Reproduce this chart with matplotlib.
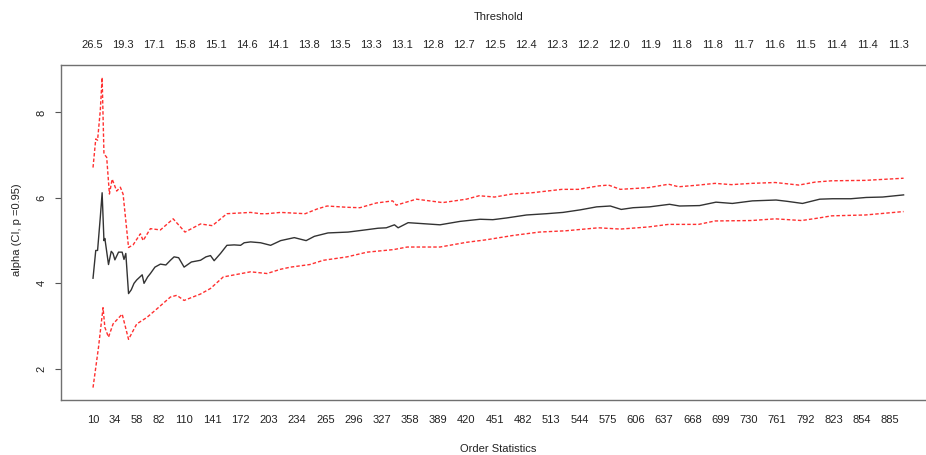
import numpy as np
import matplotlib
matplotlib.use("Agg")
import matplotlib.pyplot as plt

plt.rcParams['font.family'] = ['Liberation Sans', 'DejaVu Sans']

# Hill estimate of alpha (black line)
k_est = [10, 13, 15, 18, 20, 22, 23, 27, 30, 32, 34, 38, 42, 44, 46, 49, 52, 55, 58, 61,
         64, 66, 70, 73, 78, 84, 90, 95, 99, 104, 110, 118, 128, 134, 139, 143, 150, 157,
         165, 172, 176, 183, 194, 205, 216, 231, 244, 253, 268, 290, 305, 323, 332, 341,
         345, 356, 370, 391, 413, 435, 449, 464, 486, 508, 526, 545, 563, 578, 590, 603,
         621, 643, 654, 676, 694, 712, 734, 760, 772, 789, 808, 822, 842, 859, 877, 900]
alpha = [4.12, 4.77, 4.77, 5.55, 6.12, 5.00, 5.05, 4.44, 4.75, 4.70, 4.55, 4.73, 4.73, 4.56,
         4.70, 3.76, 3.85, 4.00, 4.08, 4.14, 4.20, 4.00, 4.15, 4.23, 4.38, 4.45, 4.43, 4.54,
         4.62, 4.60, 4.38, 4.50, 4.54, 4.62, 4.65, 4.53, 4.70, 4.89, 4.90, 4.89, 4.95, 4.97,
         4.95, 4.89, 5.00, 5.07, 5.00, 5.10, 5.18, 5.20, 5.24, 5.29, 5.30, 5.37, 5.30, 5.42,
         5.40, 5.37, 5.45, 5.50, 5.49, 5.53, 5.60, 5.63, 5.66, 5.72, 5.79, 5.81, 5.73, 5.77,
         5.79, 5.85, 5.81, 5.82, 5.90, 5.87, 5.93, 5.95, 5.92, 5.87, 5.97, 5.98, 5.98, 6.01,
         6.02, 6.07]

# upper confidence bound (red dashed)
k_up = [10, 13, 15, 18, 20, 22, 25, 28, 31, 36, 40, 43, 49, 54, 62, 65, 73, 84, 98, 111,
        128, 141, 157, 183, 194, 201, 216, 243, 256, 267, 289, 303, 321, 339, 343, 365,
        394, 420, 434, 451, 470, 492, 525, 543, 565, 576, 589, 620, 642, 653, 675, 693,
        711, 733, 759, 785, 803, 821, 858, 900]
upper = [6.71, 7.38, 7.35, 8.05, 8.82, 7.03, 6.95, 6.09, 6.44, 6.16, 6.25, 6.09, 4.84, 4.90,
         5.16, 5.00, 5.28, 5.25, 5.51, 5.20, 5.39, 5.35, 5.63, 5.66, 5.63, 5.63, 5.66, 5.63,
         5.74, 5.81, 5.78, 5.77, 5.88, 5.93, 5.83, 5.97, 5.89, 5.97, 6.05, 6.02, 6.09, 6.12,
         6.20, 6.20, 6.28, 6.30, 6.20, 6.24, 6.32, 6.26, 6.30, 6.34, 6.31, 6.34, 6.36, 6.30,
         6.37, 6.40, 6.41, 6.46]

# lower confidence bound (red dashed)
k_lo = [10, 16, 21, 23, 27, 32, 42, 49, 58, 69, 80, 95, 102, 110, 128, 139, 153, 183, 201,
        216, 227, 248, 263, 289, 311, 340, 355, 391, 420, 442, 471, 500, 529, 565, 589, 620,
        642, 675, 693, 733, 759, 788, 807, 821, 858, 900]
lower = [1.56, 2.50, 3.43, 2.97, 2.74, 3.05, 3.28, 2.69, 3.05, 3.20, 3.40, 3.68, 3.72, 3.60,
         3.75, 3.88, 4.15, 4.27, 4.23, 4.33, 4.38, 4.44, 4.54, 4.62, 4.73, 4.79, 4.85, 4.85,
         4.96, 5.02, 5.12, 5.20, 5.23, 5.30, 5.27, 5.32, 5.38, 5.38, 5.46, 5.47, 5.51, 5.47,
         5.53, 5.58, 5.60, 5.68]

order_ticks = [10, 34, 58, 82, 110, 141, 172, 203, 234, 265, 296, 327, 358, 389, 420, 451,
               482, 513, 544, 575, 606, 637, 668, 699, 730, 761, 792, 823, 854, 885]
threshold_labels = ["26.5", "19.3", "17.1", "15.8", "15.1", "14.6", "14.1", "13.8", "13.5",
                    "13.3", "13.1", "12.8", "12.7", "12.5", "12.4", "12.3", "12.2", "12.0",
                    "11.9", "11.8", "11.8", "11.7", "11.6", "11.5", "11.4", "11.4", "11.3"]

W, H = 926, 455
fig = plt.figure(figsize=(W / 100, H / 100), dpi=100)
ax = fig.add_axes([60.6 / W, 1 - 400 / H, (936 - 60.6) / W, (400 - 65) / H])

ax.plot(k_est, alpha, color='#333333', lw=1.0)
ax.plot(k_up, upper, color='#ff3030', lw=1.0, ls=(0, (2.5, 1.5)))
ax.plot(k_lo, lower, color='#ff3030', lw=1.0, ls=(0, (2.5, 1.5)))

ax.set_xlim(-25.6, 935.6)
ax.set_ylim(1.27, 9.11)

for s in ax.spines.values():
    s.set_color('#707070')
    s.set_linewidth(1.0)

ax.set_xticks(order_ticks)
ax.set_xticklabels([str(t) for t in order_ticks])
ax.tick_params(axis='x', length=0, pad=11, labelsize=8, labelcolor='#222222')

ax.set_yticks([2, 4, 6, 8])
ax.set_yticklabels(['2', '4', '6', '8'], rotation=90, va='center')
ax.tick_params(axis='y', length=4.3, width=0.8, color='#555555', pad=6,
               labelsize=8, labelcolor='#222222')

top = ax.secondary_xaxis('top')
top.set_xticks(np.linspace(9, 894, len(threshold_labels)))
top.set_xticklabels(threshold_labels)
top.tick_params(axis='x', length=0, pad=11, labelsize=8, labelcolor='#222222')
top.spines['top'].set_visible(False)

xc = (60.6 + 936) / 2 / W
fig.text(498.5 / W, 1 - 17.3 / H, 'Threshold', ha='center', va='center',
         fontsize=8, color='#222222')
fig.text(498.5 / W, 1 - 449 / H, 'Order Statistics', ha='center', va='center',
         fontsize=8, color='#222222')
fig.text(17 / W, 1 - 230 / H, 'alpha (CI, p =0.95)', ha='center', va='center',
         rotation=90, fontsize=8, color='#222222')

fig.savefig('out.png', dpi=100, facecolor='white')
